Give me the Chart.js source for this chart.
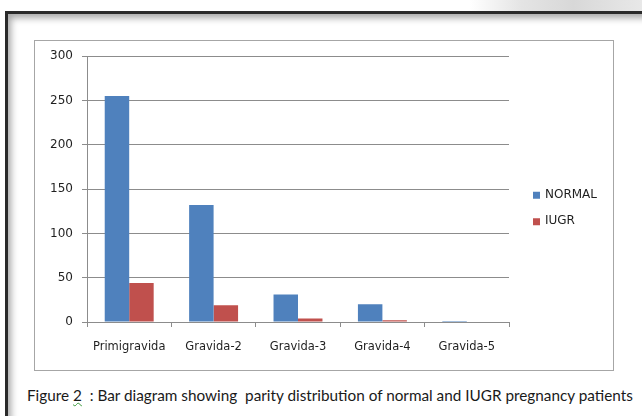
<!DOCTYPE html>
<html>
<head>
<meta charset="utf-8">
<script src="https://cdn.jsdelivr.net/npm/chart.js@4/dist/chart.umd.min.js"></script>
<style>
  html, body { margin: 0; padding: 0; background: #fff; }
  body { width: 642px; height: 416px; position: relative; overflow: hidden; }
  #mark { position: absolute; left: 470px; top: 0; width: 172px; height: 12px;
          background: linear-gradient(to right, #fff, #e4e4e4 30%, #d8d8d8 60%, #e8e8e8); }
  #frame { position: absolute; left: 5px; top: 11px; width: 660px; height: 420px;
           border: 3px solid #2a2a2a; box-shadow: inset 3px 4px 7px rgba(0,0,0,0.35); background: #fff; }
  #box { position: absolute; left: 34px; top: 40px; width: 580px; height: 331px;
         border: 1px solid #a6a6a6; box-sizing: border-box; }
  #chart { position: absolute; left: 34px; top: 40px; }
  #caption { position: absolute; left: 27px; top: 386px; white-space: pre;
             font-family: Lato, sans-serif; font-size: 15.3px; color: #1a1a1a; }
  #caption u { text-decoration: underline wavy #3a9a3a; text-decoration-thickness: 1px; }
</style>
</head>
<body>
<div id="mark"></div>
<div id="frame"></div>
<div id="box"></div>
<canvas id="chart" width="580" height="331"></canvas>
<div id="caption">Figure <u>2</u>  : Bar diagram showing  parity distribution of normal and IUGR pregnancy patients</div>
<script>
var categories = ['Primigravida', 'Gravida-2', 'Gravida-3', 'Gravida-4', 'Gravida-5'];
var normalValues = [255, 132, 31, 20, 1];
var iugrValues = [44, 19, 4, 2, 0];
var yTicks = [0, 50, 100, 150, 200, 250, 300];

var gridGray = '#8c8c8c';
var textColor = '#1f1f1f';

// 엑셀 스타일 범례 (오른쪽)
var sideLegend = {
    id: 'sideLegend',
    afterDraw: function (chart) {
        var ctx = chart.ctx;
        var area = chart.chartArea;
        var sets = chart.data.datasets;
        var x = area.right + 24;
        var gap = 26.5;
        var y0 = chart.height / 2 - gap * (sets.length - 1) / 2 + 2.5;
        ctx.save();
        ctx.font = '12px "DejaVu Sans"';
        ctx.textBaseline = 'middle';
        for (var i = 0; i < sets.length; i++) {
            var y = y0 + i * gap;
            ctx.fillStyle = sets[i].backgroundColor;
            ctx.fillRect(x, y - 3, 7, 7);
            ctx.fillStyle = textColor;
            ctx.fillText(sets[i].label, x + 12, y);
        }
        ctx.restore();
    }
};

var ctx = document.getElementById('chart').getContext('2d');
var myChart = new Chart(ctx, {
    type: 'bar',
    data: {
        labels: categories,
        datasets: [{
            label: 'NORMAL',
            data: normalValues,
            backgroundColor: '#4f81bd',
            categoryPercentage: 0.58,
            barPercentage: 1.0
        }, {
            label: 'IUGR',
            data: iugrValues,
            backgroundColor: '#c0504d',
            categoryPercentage: 0.58,
            barPercentage: 1.0
        }]
    },
    options: {
        responsive: false,
        animation: false,
        layout: { padding: { left: 0, right: 105, top: 16, bottom: 0 } },
        plugins: {
            legend: { display: false },
            tooltip: { enabled: false }
        },
        scales: {
            x: {
                afterFit: function (s) { s.height = 49; },
                grid: { drawOnChartArea: false, drawTicks: true, tickLength: 5, color: gridGray },
                border: { color: gridGray },
                ticks: { font: { family: 'DejaVu Sans', size: 11.5 }, color: textColor, padding: 13 }
            },
            y: {
                min: 0,
                max: 300,
                afterFit: function (s) { s.width = 53; },
                afterBuildTicks: function (s) { s.ticks = yTicks.map(function (v) { return { value: v }; }); },
                grid: { color: gridGray, tickLength: 5 },
                border: { color: gridGray },
                ticks: { font: { family: 'DejaVu Sans', size: 12 }, color: textColor, padding: 9 }
            }
        }
    },
    plugins: [sideLegend]
});
</script>
</body>
</html>
